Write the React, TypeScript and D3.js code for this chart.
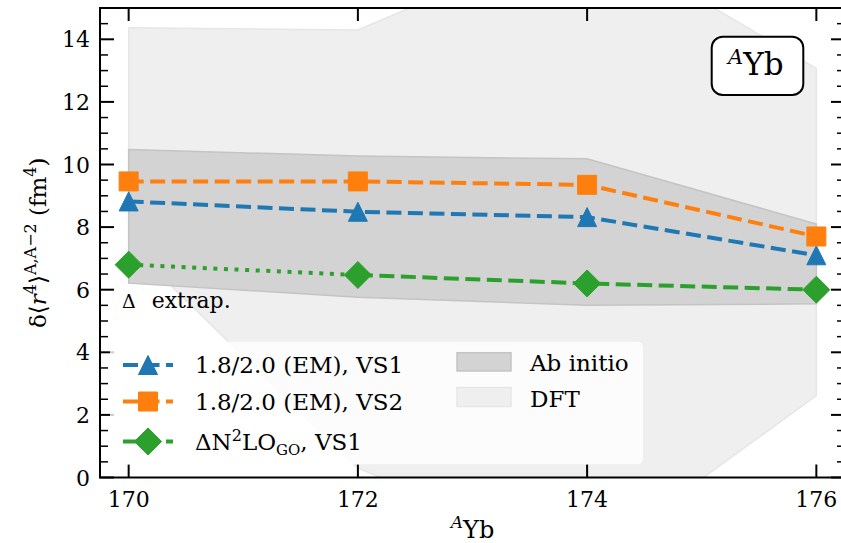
import * as d3 from "d3";

const isotopes = [170, 172, 174, 176];
const vs1Values = [8.82, 8.49, 8.32, 7.1];
const vs2Values = [9.46, 9.46, 9.35, 7.7];
const dn2loValues = [6.8, 6.47, 6.2, 6.0];
const abInitioUpper = [10.48, 10.27, 10.18, 8.1];
const abInitioLower = [6.21, 5.76, 5.5, 5.55];
const dftUpper = [14.37, 14.3, 17.4, 13.07];
const dftLower = [7.45, 0.3, -2.7, 2.62];

const xTicks = [170, 172, 174, 176];
const yTicks = [0, 2, 4, 6, 8, 10, 12, 14];

const FONT = '"DejaVu Serif", serif';
const BLUE = "#1f77b4";
const ORANGE = "#ff7f0e";
const GREEN = "#2ca02c";
const DASH = "15 6.5";
const DOT = "4 6.6";

type Pt = [number, number];

const triangle = (s: number) => `M0,${-s}L${s},${s}L${-s},${s}Z`;
const square = (s: number) => `M${-s},${-s}H${s}V${s}H${-s}Z`;
const diamond = (s: number) => `M0,${-s}L${s},0L0,${s}L${-s},0Z`;

function Marker({ kind, cx, cy, color }: { kind: string; cx: number; cy: number; color: string }) {
  const d = kind === "tri" ? triangle(9.5) : kind === "sq" ? square(9.5) : diamond(13.5);
  return <path d={d} transform={`translate(${cx},${cy})`} fill={color} stroke={color} strokeWidth={1} />;
}

export default function App() {
  const width = 841;
  const height = 543;
  const margin = { top: 8, right: -4, bottom: 65.5, left: 100 };

  const x = d3.scaleLinear().domain([169.75, 176.25]).range([margin.left, width - margin.right]);
  const y = d3.scaleLinear().domain([0, 15]).range([height - margin.bottom, margin.top]);

  const pts = (vals: number[]): Pt[] => isotopes.map((a, i) => [a, vals[i]]);
  const line = d3.line<Pt>().x(d => x(d[0])).y(d => y(d[1]));
  const band = (lo: number[], hi: number[]) =>
    d3.area<number>()
      .x(d => x(d))
      .y0((_, i) => y(lo[i]))
      .y1((_, i) => y(hi[i]))(isotopes) || "";

  const [x0, x1] = x.range();
  const [yb, yt] = y.range();
  const minor = d3.range(0, 15.01, 0.5).filter(v => v % 2 !== 0);

  const series = [
    { vals: vs1Values, color: BLUE, kind: "tri" },
    { vals: vs2Values, color: ORANGE, kind: "sq" },
  ];
  const green = pts(dn2loValues);

  const legendRows = [
    { color: BLUE, kind: "tri", cy: 365 },
    { color: ORANGE, kind: "sq", cy: 401.5 },
    { color: GREEN, kind: "dia", cy: 441.5 },
  ];

  return (
    <svg width={width} height={height} style={{ position: "absolute", left: 0, top: 0, background: "#fff", fontFamily: FONT }}>
      <defs>
        <clipPath id="plot">
          <rect x={x0} y={yt} width={x1 - x0} height={yb - yt} />
        </clipPath>
      </defs>

      <g clipPath="url(#plot)">
        <path d={band(dftLower, dftUpper)} fill="#efefef" stroke="#e6e6e6" strokeWidth={1.5} />
        <path d={band(abInitioLower, abInitioUpper)} fill="#d3d3d3" stroke="#c4c4c4" strokeWidth={1.5} />

        {series.map(s => (
          <g key={s.color}>
            <path d={line(pts(s.vals)) || ""} fill="none" stroke={s.color} strokeWidth={4} strokeDasharray={DASH} />
            {pts(s.vals).map(d => (
              <Marker key={d[0]} kind={s.kind} cx={x(d[0])} cy={y(d[1])} color={s.color} />
            ))}
          </g>
        ))}
        <path d={line(green.slice(0, 2)) || ""} fill="none" stroke={GREEN} strokeWidth={4} strokeDasharray={DOT} />
        <path d={line(green.slice(1)) || ""} fill="none" stroke={GREEN} strokeWidth={4} strokeDasharray={DASH} />
        {green.map(d => (
          <Marker key={d[0]} kind="dia" cx={x(d[0])} cy={y(d[1])} color={GREEN} />
        ))}
      </g>

      {/* ticks */}
      {yTicks.map(t => (
        <g key={t}>
          <line x1={x0} x2={x0 + 14} y1={y(t)} y2={y(t)} stroke="#000" strokeWidth={2} />
          <line x1={x1} x2={x1 - 14} y1={y(t)} y2={y(t)} stroke="#000" strokeWidth={2} />
          <text x={90} y={y(t) + 8} textAnchor="end" fontSize={22}>{t}</text>
        </g>
      ))}
      {minor.map(t => (
        <g key={t}>
          <line x1={x0} x2={x0 + 8} y1={y(t)} y2={y(t)} stroke="#000" strokeWidth={1.5} />
          <line x1={x1} x2={x1 - 8} y1={y(t)} y2={y(t)} stroke="#000" strokeWidth={1.5} />
        </g>
      ))}
      {xTicks.map(t => (
        <g key={t}>
          <line x1={x(t)} x2={x(t)} y1={yb} y2={yb - 13} stroke="#000" strokeWidth={2} />
          <line x1={x(t)} x2={x(t)} y1={yt} y2={yt + 13} stroke="#000" strokeWidth={2} />
          <text x={x(t)} y={507} textAnchor="middle" fontSize={22}>{t}</text>
        </g>
      ))}

      <rect x={x0} y={yt} width={x1 - x0} height={yb - yt} fill="none" stroke="#000" strokeWidth={2} />

      {/* extrapolation note */}
      <text x={122} y={308} fontSize={22}>
        <tspan fontSize={19}>Δ</tspan>
        <tspan x={151.7}>extrap.</tspan>
      </text>

      {/* legend */}
      <rect x={110} y={341.7} width={533} height={122.6} rx={5} fill="#fff" fillOpacity={0.8} />
      {legendRows.map(r => (
        <g key={r.color}>
          <line x1={123} x2={173} y1={r.cy} y2={r.cy} stroke={r.color} strokeWidth={4} strokeDasharray={DASH} />
          <Marker kind={r.kind} cx={148} cy={r.cy} color={r.color} />
        </g>
      ))}
      <text x={195} y={373} fontSize={23}>1.8/2.0 (EM), VS1</text>
      <text x={195} y={409.5} fontSize={23}>1.8/2.0 (EM), VS2</text>
      <text x={195} y={450} fontSize={23}>
        ΔN<tspan dy={-9} fontSize={16}>2</tspan>
        <tspan dy={9}>LO</tspan>
        <tspan dy={5} fontSize={15}>GO</tspan>
        <tspan dy={-5}>, VS1</tspan>
      </text>
      <rect x={457} y={352.7} width={54} height={18.3} fill="#d3d3d3" stroke="#c4c4c4" strokeWidth={1.5} />
      <rect x={457} y={387.5} width={54} height={19} fill="#efefef" stroke="#e6e6e6" strokeWidth={1.5} />
      <text x={530} y={371} fontSize={23}>Ab initio</text>
      <text x={530} y={406.5} fontSize={23}>DFT</text>

      {/* isotope box */}
      <rect x={711.7} y={36.7} width={91.6} height={58.3} rx={11} fill="#fff" stroke="#000" strokeWidth={2} />
      <text x={728} y={75} fontSize={31}>
        <tspan fontStyle="italic" fontSize={21} dy={-11}>A</tspan>
        <tspan dy={11}>Yb</tspan>
      </text>

      {/* axis labels */}
      <text x={472.5} y={538} textAnchor="middle" fontSize={24}>
        <tspan fontStyle="italic" fontSize={17} dy={-10}>A</tspan>
        <tspan dy={10}>Yb</tspan>
      </text>
      <text transform={`translate(46, ${(yb + yt) / 2}) rotate(-90)`} textAnchor="middle" fontSize={23}>
        δ⟨<tspan fontStyle="italic">r</tspan>
        <tspan dy={-10} fontSize={16}>4</tspan>
        <tspan dy={10}>⟩</tspan>
        <tspan dy={-10} fontSize={16}>A,A−2</tspan>
        <tspan dy={10}> (fm</tspan>
        <tspan dy={-10} fontSize={16}>4</tspan>
        <tspan dy={10}>)</tspan>
      </text>
    </svg>
  );
}
